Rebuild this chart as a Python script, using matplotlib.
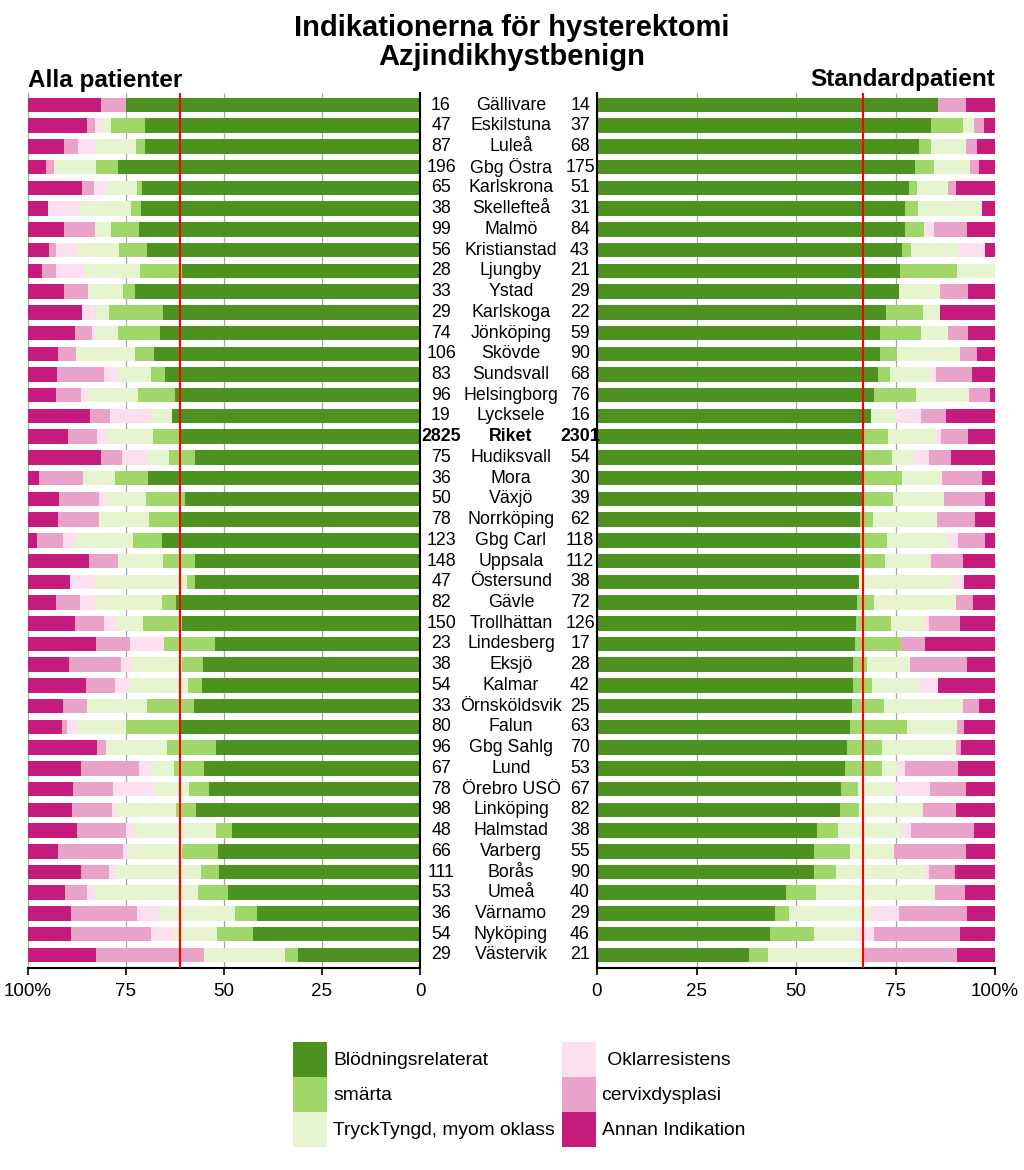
import numpy as np
import matplotlib
matplotlib.use('Agg')
import matplotlib.pyplot as plt
import matplotlib.transforms as mtransforms
from matplotlib.patches import Patch

plt.rcParams['font.family'] = ['Liberation Sans', 'DejaVu Sans']

#%% data
names = ['Gällivare', 'Eskilstuna', 'Luleå', 'Gbg Östra', 'Karlskrona', 'Skellefteå',
         'Malmö', 'Kristianstad', 'Ljungby', 'Ystad', 'Karlskoga', 'Jönköping',
         'Skövde', 'Sundsvall', 'Helsingborg', 'Lycksele', 'Riket', 'Hudiksvall',
         'Mora', 'Växjö', 'Norrköping', 'Gbg Carl', 'Uppsala', 'Östersund', 'Gävle',
         'Trollhättan', 'Lindesberg', 'Eksjö', 'Kalmar', 'Örnsköldsvik', 'Falun',
         'Gbg Sahlg', 'Lund', 'Örebro USÖ', 'Linköping', 'Halmstad', 'Varberg',
         'Borås', 'Umeå', 'Värnamo', 'Nyköping', 'Västervik']
n_all = [16, 47, 87, 196, 65, 38, 99, 56, 28, 33, 29, 74, 106, 83, 96, 19, 2825, 75,
         36, 50, 78, 123, 148, 47, 82, 150, 23, 38, 54, 33, 80, 96, 67, 78, 98, 48,
         66, 111, 53, 36, 54, 29]
n_std = [14, 37, 68, 175, 51, 31, 84, 43, 21, 29, 22, 59, 90, 68, 76, 16, 2301, 54,
         30, 39, 62, 118, 112, 38, 72, 126, 17, 28, 42, 25, 63, 70, 53, 67, 82, 38,
         55, 90, 40, 29, 46, 21]

# Alla patienter, percent per indication
all_blod = [75.0, 70.2, 70.1, 77.0, 70.8, 71.1, 71.7, 69.6, 60.7, 72.7, 65.5, 66.2,
            67.9, 65.1, 62.5, 63.2, 61.1, 57.3, 69.4, 60.0, 61.5, 65.9, 57.4, 57.4,
            62.2, 60.7, 52.2, 55.3, 55.6, 57.6, 61.3, 52.1, 55.2, 53.8, 57.1, 47.9,
            51.5, 51.4, 49.1, 41.7, 42.6, 31.0]
all_smarta = [0, 8.5, 2.3, 5.6, 1.5, 2.6, 7.1, 7.1, 10.7, 3.0, 13.8, 10.8,
              4.7, 3.6, 9.4, 0, 6.9, 6.7, 8.3, 10.0, 7.7, 7.3, 8.1, 2.1,
              3.7, 10.0, 13.0, 5.3, 3.7, 12.1, 13.8, 12.5, 7.5, 5.1, 5.1, 4.2,
              9.1, 4.5, 7.5, 5.6, 9.3, 3.4]
all_tryck = [0, 2.1, 10.3, 10.7, 7.7, 13.2, 4.0, 10.7, 14.3, 9.1, 3.4, 5.4,
             15.1, 8.4, 12.5, 5.3, 11.8, 5.3, 8.3, 10.0, 12.8, 14.6, 11.5, 23.4,
             17.1, 6.7, 0, 13.2, 14.8, 15.2, 12.5, 15.6, 6.0, 9.0, 15.3, 20.8,
             13.6, 21.6, 26.4, 19.4, 11.1, 20.7]
all_oklar = [0, 2.1, 4.6, 0, 3.1, 7.9, 0, 5.4, 7.1, 0, 3.4, 1.4,
             0, 3.6, 2.1, 10.5, 2.7, 6.7, 0, 2.0, 0, 3.3, 0, 6.4,
             3.7, 3.3, 8.7, 2.6, 3.7, 0, 2.5, 0, 3.0, 10.3, 1.0, 2.1,
             1.5, 1.8, 1.9, 5.6, 5.6, 0]
all_cervix = [6.3, 2.1, 3.4, 2.0, 3.1, 0, 8.1, 1.8, 3.6, 6.1, 0, 4.1,
              4.7, 12.0, 6.3, 5.3, 7.2, 5.3, 11.1, 10.0, 10.3, 6.5, 7.4, 0,
              6.1, 7.3, 8.7, 13.2, 7.4, 6.1, 1.3, 2.1, 14.9, 10.3, 10.2, 12.5,
              16.7, 7.2, 5.7, 16.7, 20.4, 27.6]
all_annan = [18.8, 14.9, 9.2, 4.6, 13.8, 5.3, 9.1, 5.4, 3.6, 9.1, 13.8, 12.2,
             7.5, 7.2, 7.3, 15.8, 10.3, 18.7, 2.8, 8.0, 7.7, 2.4, 15.5, 10.6,
             7.3, 12.0, 17.4, 10.5, 14.8, 9.1, 8.8, 17.7, 13.4, 11.5, 11.2, 12.5,
             7.6, 13.5, 9.4, 11.1, 11.1, 17.2]

# Standardpatient, percent per indication
std_blod = [85.7, 83.8, 80.9, 80.0, 78.4, 77.4, 77.4, 76.7, 76.2, 75.9, 72.7, 71.2,
            71.1, 70.6, 69.7, 68.8, 66.9, 66.7, 66.7, 66.7, 66.1, 66.1, 66.1, 65.8,
            65.3, 65.1, 64.7, 64.3, 64.3, 64.0, 63.5, 62.9, 62.3, 61.2, 61.0, 55.3,
            54.5, 54.4, 47.5, 44.8, 43.5, 38.1]
std_smarta = [0, 8.1, 2.9, 4.6, 2.0, 3.2, 4.8, 2.3, 14.3, 0, 9.1, 10.2,
              4.4, 2.9, 10.5, 0, 6.1, 7.4, 10.0, 7.7, 3.2, 6.8, 6.3, 0,
              4.2, 8.7, 11.8, 3.6, 4.8, 8.0, 14.3, 8.6, 9.4, 4.5, 4.9, 5.3,
              9.1, 5.6, 7.5, 3.4, 10.9, 4.8]
std_tryck = [0, 2.7, 8.8, 9.1, 7.8, 16.1, 0, 11.6, 9.5, 10.3, 4.5, 6.8,
             15.6, 10.3, 13.2, 6.3, 12.3, 5.6, 10.0, 12.8, 16.1, 15.3, 11.6, 23.7,
             20.8, 8.7, 0, 10.7, 11.9, 20.0, 12.7, 18.6, 3.8, 9.0, 15.9, 15.8,
             10.9, 22.2, 30.0, 20.7, 10.9, 23.8]
std_oklar = [0, 0, 0, 0, 0, 0, 2.4, 7.0, 0, 0, 0, 0,
             0, 1.5, 0, 6.3, 1.1, 3.7, 0, 0, 0, 2.5, 0, 2.6,
             0, 0.8, 0, 0, 4.8, 0, 0, 0, 1.9, 9.0, 0, 2.6,
             0, 1.1, 0, 6.9, 4.3, 0]
std_cervix = [7.1, 2.7, 2.9, 2.3, 2.0, 0, 8.3, 0, 0, 6.9, 0, 5.1,
              4.4, 8.8, 5.3, 6.3, 6.9, 5.6, 10.0, 10.3, 9.7, 6.8, 8.0, 0,
              4.2, 7.9, 5.9, 14.3, 0, 4.0, 1.6, 1.4, 13.2, 9.0, 8.5, 15.8,
              18.2, 6.7, 7.5, 17.2, 21.7, 23.8]
std_annan = [7.2, 2.7, 4.4, 4.0, 9.8, 3.2, 7.1, 2.3, 0, 6.9, 13.6, 6.8,
             4.4, 5.9, 1.3, 12.5, 6.7, 11.1, 3.3, 2.6, 4.8, 2.5, 8.0, 7.9,
             5.6, 8.7, 17.6, 7.1, 14.3, 4.0, 7.9, 8.6, 9.4, 7.5, 9.8, 5.3,
             7.3, 10.0, 7.5, 6.9, 8.7, 9.5]

labels = ['Blödningsrelaterat', 'smärta', 'TryckTyngd, myom oklass',
          ' Oklarresistens', 'cervixdysplasi', 'Annan Indikation']
colors = ['#4d9221', '#a1d76a', '#e6f5d0', '#fde0ef', '#e9a3c9', '#c51b7d']

all_data = [all_blod, all_smarta, all_tryck, all_oklar, all_cervix, all_annan]
std_data = [std_blod, std_smarta, std_tryck, std_oklar, std_cervix, std_annan]

#%% figure
W, H = 1024, 1170
fig = plt.figure(figsize=(W / 100, H / 100), dpi=100)
top_px, bot_px = 93, 968
ax_l = fig.add_axes([28 / W, 1 - bot_px / H, (420 - 28) / W, (bot_px - top_px) / H])
ax_r = fig.add_axes([597 / W, 1 - bot_px / H, (995 - 597) / W, (bot_px - top_px) / H])

y = np.arange(len(names))
riket = names.index('Riket')

for ax, data in [(ax_l, all_data), (ax_r, std_data)]:
    left = np.zeros(len(names))
    for vals, col in zip(data, colors):
        vals = np.array(vals)
        ax.barh(y, vals, left=left, height=0.7, color=col, linewidth=0)
        left += vals
    ax.axvline(data[0][riket], color='red', lw=1.5, zorder=4)
    ax.set_ylim(41.63, -0.58)
    ax.set_yticks([])
    ax.grid(axis='x', color='#a6a6a6', lw=0.9)
    ax.set_axisbelow(True)
    for s in ['top', 'left', 'right']:
        ax.spines[s].set_visible(False)
    ax.spines['bottom'].set_linewidth(1.5)
    ax.tick_params(axis='x', length=5, width=1.2, pad=6, labelsize=13.5)

ax_l.set_xlim(100, 0)
ax_l.set_xticks([100, 75, 50, 25, 0])
ax_l.set_xticklabels(['100%', '75', '50', '25', '0'])
ax_l.spines['right'].set_visible(True)
ax_l.spines['right'].set_linewidth(1.5)

ax_r.set_xlim(0, 100)
ax_r.set_xticks([0, 25, 50, 75, 100])
ax_r.set_xticklabels(['0', '25', '50', '75', '100%'])
ax_r.spines['left'].set_visible(True)
ax_r.spines['left'].set_linewidth(1.5)

# labels in the middle
trans = mtransforms.blended_transform_factory(fig.transFigure, ax_l.transData)
for i, name in enumerate(names):
    w = 'bold' if name == 'Riket' else 'normal'
    fig.text(441 / W, i, str(n_all[i]), transform=trans, ha='center', va='center',
             fontsize=12.8, weight=w)
    fig.text(511 / W, i, name, transform=trans, ha='center', va='center',
             fontsize=12.8, weight=w)
    fig.text(580 / W, i, str(n_std[i]), transform=trans, ha='center', va='center',
             fontsize=12.8, weight=w)

# titles
fig.text(0.5, 1 - 36 / H, 'Indikationerna för hysterektomi', ha='center', va='baseline',
         fontsize=21, weight='bold')
fig.text(0.5, 1 - 65 / H, 'Azjindikhystbenign', ha='center', va='baseline',
         fontsize=21, weight='bold')
fig.text(28 / W, 1 - 87 / H, 'Alla patienter', ha='left', va='baseline',
         fontsize=17.5, weight='bold')
fig.text(995 / W, 1 - 86 / H, 'Standardpatient', ha='right', va='baseline',
         fontsize=17.5, weight='bold')

# legend
handles = [Patch(facecolor=c, edgecolor='none') for c in colors]
fig.legend(handles, labels, ncol=2, loc='upper left',
           bbox_to_anchor=(293 / W, 1 - 1042 / H), frameon=False,
           fontsize=13.9, handlelength=1.76, handleheight=2.41, handletextpad=0.31,
           labelspacing=0, columnspacing=0.36, borderpad=0, borderaxespad=0)

fig.savefig('out.png', dpi=100)
plt.close(fig)
